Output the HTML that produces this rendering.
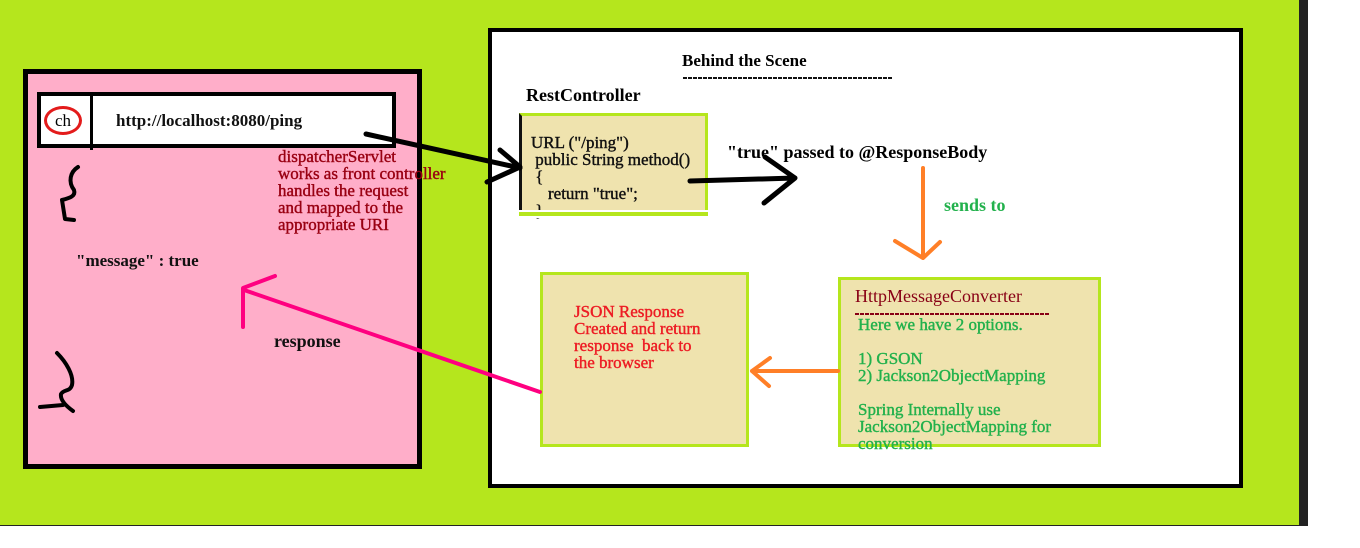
<!DOCTYPE html>
<html><head><meta charset="utf-8"><style>
html,body{margin:0;padding:0;}
body{width:1360px;height:548px;background:#fff;position:relative;overflow:hidden;font-family:"Liberation Serif",serif;}
.a{position:absolute;}
.t{position:absolute;white-space:pre;line-height:1;font-weight:bold;}
.dash{position:absolute;height:2px;background:repeating-linear-gradient(90deg,currentColor 0 4px,transparent 4px 5px);}
</style></head><body>
<div class="a" style="left:0;top:0;width:1299px;height:525px;background:#b5e61d;border-bottom:1px solid #222;"></div>
<div class="a" style="left:1299px;top:0;width:9px;height:526px;background:#222;"></div>
<div class="a" style="left:23px;top:69px;width:389px;height:390px;background:#ffaec9;border:5px solid #000;"></div>
<div class="a" style="left:37px;top:92px;width:351px;height:48px;background:#fff;border:4px solid #000;"></div>
<div class="a" style="left:90px;top:96px;width:3px;height:54px;background:#000;"></div>
<div class="a" style="left:44px;top:106px;width:38px;height:29px;border:3px solid #e31b1b;border-radius:50%;box-sizing:border-box;"></div>
<div class="t" style="left:55px;top:112px;font-size:17px;font-weight:normal;">ch</div>
<div class="t" style="left:116px;top:112px;font-size:17px;color:#111;">http://localhost:8080/ping</div>
<div class="a" style="left:488px;top:28px;width:747px;height:452px;background:#fff;border:4px solid #000;"></div>
<div class="t" style="left:682px;top:52px;font-size:17px;">Behind the Scene</div>
<div class="dash" style="left:683px;top:77px;width:210px;color:#111;"></div>
<div class="t" style="left:526px;top:86px;font-size:18px;">RestController</div>
<div class="a" style="left:519px;top:113px;width:183px;height:99px;background:#efe3ae;border:3px solid #b5e61d;border-left:3px solid #111;"></div>
<div class="t" style="left:531px;top:134px;font-size:17px;line-height:17px;color:#111;font-weight:normal;-webkit-text-stroke:0.4px #111;">URL ("/ping")
 public String method()
 {
    return "true";
 }</div>
<div class="a" style="left:519px;top:210px;width:189px;height:8px;background:#fff;"></div>
<div class="a" style="left:519px;top:212px;width:189px;height:4px;background:#b5e61d;"></div>
<div class="t" style="left:727px;top:143px;font-size:18px;">"true" passed to @ResponseBody</div>
<div class="t" style="left:944px;top:196px;font-size:18px;color:#22b14c;">sends to</div>
<div class="a" style="left:540px;top:272px;width:203px;height:169px;background:#efe3ae;border:3px solid #b5e61d;"></div>
<div class="t" style="left:574px;top:303px;font-size:17px;line-height:17px;color:#ed1c24;font-weight:normal;-webkit-text-stroke:0.4px #ed1c24;">JSON Response
Created and return
response  back to
the browser</div>
<div class="a" style="left:838px;top:277px;width:257px;height:164px;background:#efe3ae;border:3px solid #b5e61d;"></div>
<div class="t" style="left:855px;top:287px;font-size:18px;color:#880015;font-weight:normal;">HttpMessageConverter</div>
<div class="dash" style="left:855px;top:313px;width:195px;color:#880015;"></div>
<div class="t" style="left:858px;top:316px;font-size:17px;line-height:17px;color:#22b14c;font-weight:normal;-webkit-text-stroke:0.4px #22b14c;">Here we have 2 options.

1) GSON
2) Jackson2ObjectMapping

Spring Internally use
Jackson2ObjectMapping for
conversion</div>
<div class="t" style="left:76px;top:252px;font-size:17px;color:#111;">"message" : true</div>
<div class="t" style="left:274px;top:332px;font-size:18px;color:#111;">response</div>
<div class="t" style="left:278px;top:148px;font-size:17px;line-height:17px;color:#990012;font-weight:normal;-webkit-text-stroke:0.4px #990012;">dispatcherServlet
works as front controller
handles the request
and mapped to the
appropriate URI</div>
<svg class="a" style="left:0;top:0" width="1360" height="548">
<g fill="none" stroke-linecap="round" stroke-linejoin="round">
<path d="M366 134 L520 168 M500 150 L520 167 L487 182" stroke="#000" stroke-width="5"/>
<path d="M690 181 L795 178 M765 157 L795 178 L764 203" stroke="#000" stroke-width="5"/>
<path d="M923 168 L923 257 M895 241 L923 258 L940 242" stroke="#ff7f27" stroke-width="4"/>
<path d="M838 371 L752 371 M770 358 L752 371 L769 386" stroke="#ff7f27" stroke-width="4"/>
<path d="M540 392 L244 290 M243 327 L243 288 L275 276" stroke="#ff0080" stroke-width="4"/>
<path d="M78 167 C70 172 68 182 74 190 C76 196 70 198 62 200 L65 219 L74 220" stroke="#000" stroke-width="4"/>
<path d="M57 353 C66 362 74 375 72 385 C70 392 64 389 61 394 C60 400 66 406 73 411 M40 407 L63 405" stroke="#000" stroke-width="4"/>
</g></svg>
</body></html>
